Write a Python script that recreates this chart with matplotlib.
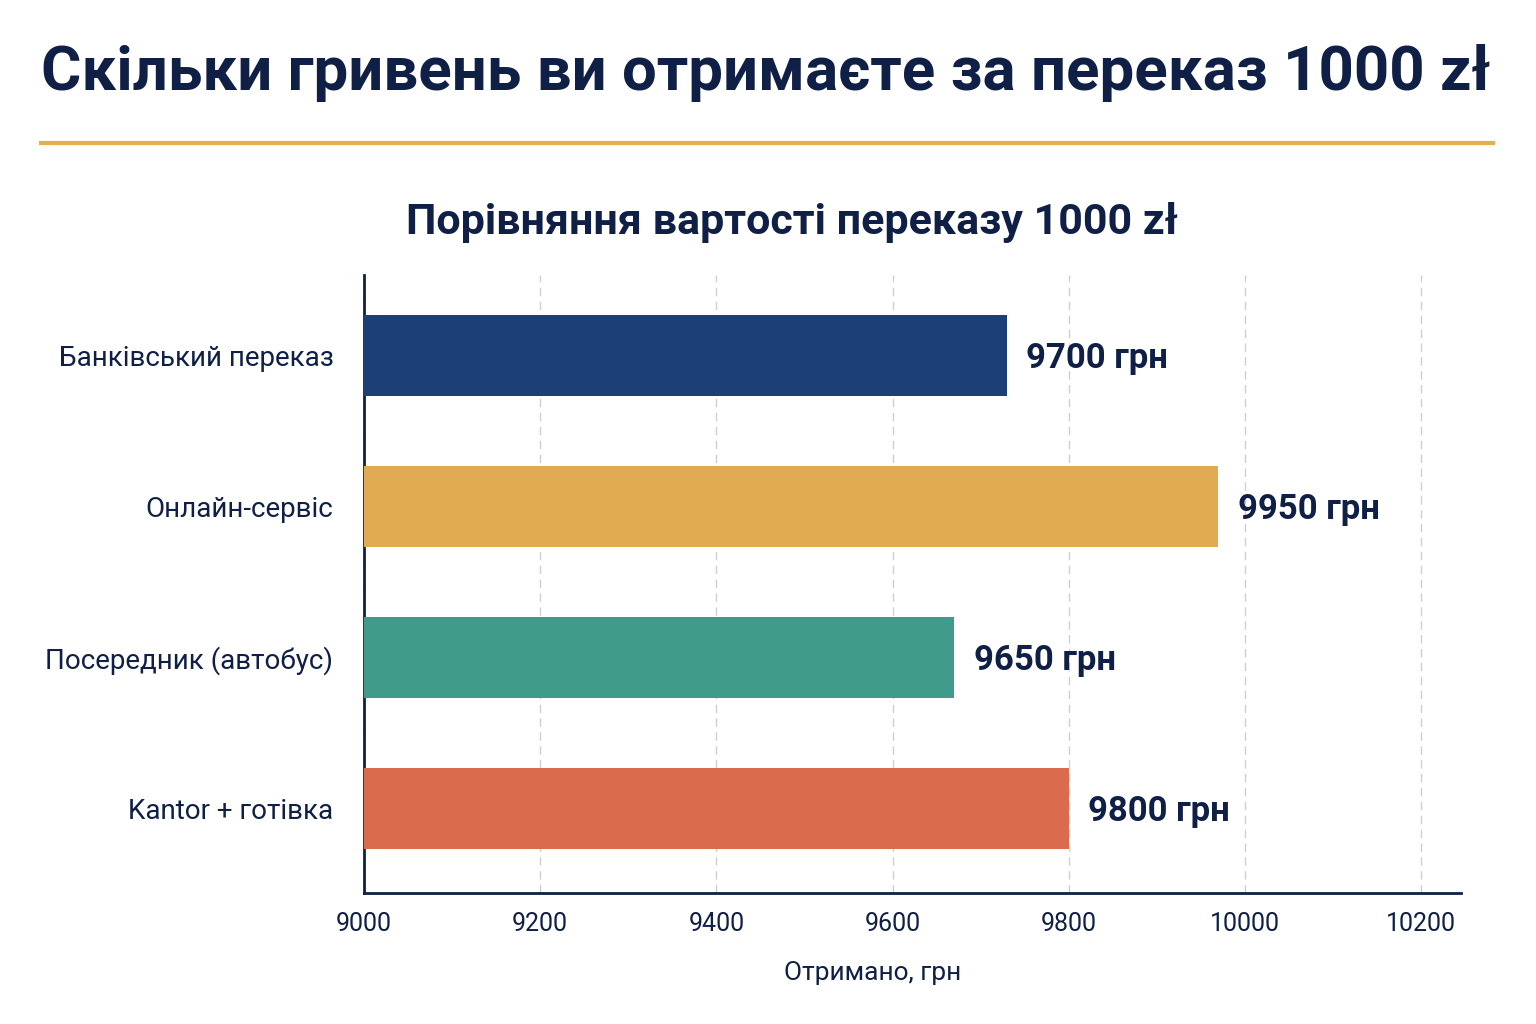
import matplotlib.pyplot as plt
from matplotlib.lines import Line2D

# дані з графіка
methods = ['Банківський переказ', 'Онлайн-сервіс', 'Посередник (автобус)', 'Kantor + готівка']
received = [9730, 9970, 9670, 9800]          # довжина смуг, як на малюнку
labelled = [9700, 9950, 9650, 9800]          # підписи біля смуг
xticks = [9000, 9200, 9400, 9600, 9800, 10000, 10200]

colors = ['#1c3f78', '#e0ab52', '#409b8b', '#da6b4c']
navy = '#0f1f45'

plt.rcParams['font.family'] = ['Roboto', 'DejaVu Sans']

fig = plt.figure(figsize=(15.36, 10.24), dpi=100)
fig.patch.set_facecolor('white')

# заголовок і золота лінія
fig.text(0.027, 0.929, 'Скільки гривень ви отримаєте за переказ 1000 zł',
         fontsize=44.5, fontweight='bold', color=navy, ha='left', va='center')
fig.add_artist(Line2D([0.027, 0.972], [0.860, 0.860], color='#e3b04b', lw=3,
                      transform=fig.transFigure))

ax = fig.add_axes([0.237, 0.128, 0.714, 0.603])
ax.barh(range(len(methods)), [v - 9000 for v in received], left=9000,
        height=0.54, color=colors, zorder=3)

for i, (v, lab) in enumerate(zip(received, labelled)):
    ax.text(v + 22, i + 0.02, f'{lab} грн', fontsize=25, fontweight='bold',
            color=navy, va='center', ha='left', zorder=4)

ax.set_xlim(9000, 10245)
ax.set_ylim(3.56, -0.53)
ax.set_xticks(xticks)
ax.set_xticklabels([str(t) for t in xticks], fontsize=18, color=navy)
ax.set_yticks(range(len(methods)))
ax.set_yticklabels(methods, fontsize=20, color=navy)
ax.tick_params(axis='both', length=0)
ax.tick_params(axis='y', pad=22)
ax.tick_params(axis='x', pad=14)

ax.grid(axis='x', color='#cfcfcf', linestyle=(0, (6, 4)), lw=1, zorder=0)
for s in ['top', 'right']:
    ax.spines[s].set_visible(False)
for s in ['left', 'bottom']:
    ax.spines[s].set_color(navy)
    ax.spines[s].set_linewidth(2)

ax.set_xlabel('Отримано, грн', fontsize=19, color=navy, labelpad=18, x=0.464)
ax.set_title('Порівняння вартості переказу 1000 zł', fontsize=31,
             fontweight='bold', color=navy, pad=30, x=0.39)

fig.savefig('out.png', dpi=100)
